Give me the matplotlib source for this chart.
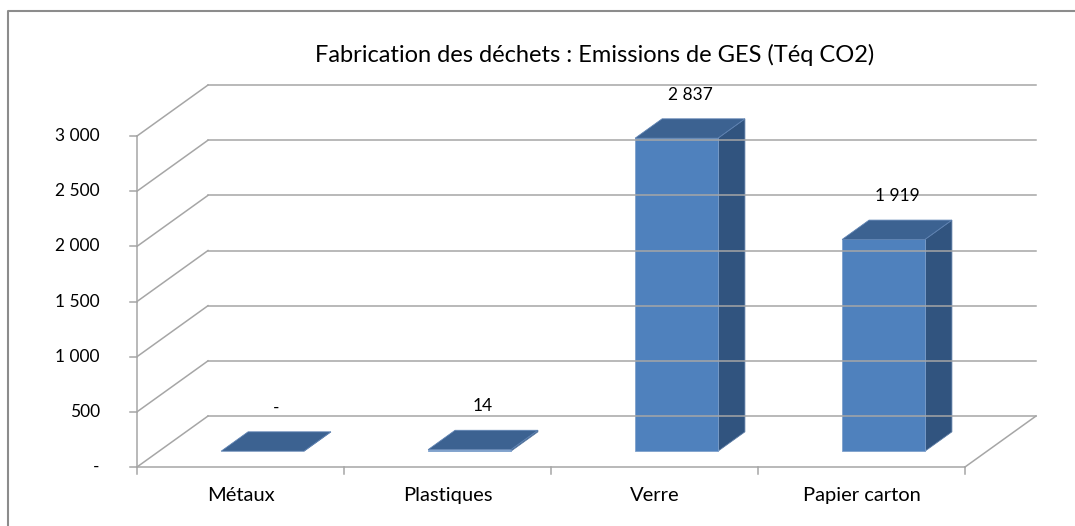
import matplotlib
matplotlib.use("Agg")
import matplotlib.pyplot as plt
from matplotlib.patches import Polygon
from matplotlib.lines import Line2D

categories = ["Métaux", "Plastiques", "Verre", "Papier carton"]
values = [0, 14, 2837, 1919]
yticks = [0, 500, 1000, 1500, 2000, 2500, 3000]
title = "Fabrication des déchets : Emissions de GES (Téq CO2)"


def fmt(v):
    if v == 0:
        return "-"
    return "{:,}".format(v).replace(",", " ")


plt.rcParams["font.family"] = ["Lato", "DejaVu Sans"]

fig = plt.figure(figsize=(10.75, 5.26), dpi=100)
ax = fig.add_axes([0, 0, 1, 1])
# front plane: x 0..4 -> 137..965 px, y 0..3000 -> 467..136 px
ax.set_xlim(-137 / 207, (1075 - 137) / 207)
ax.set_ylim((467 - 526) / 0.11033, 467 / 0.11033)
ax.axis("off")

grid = "#a6a6a6"
n = len(categories)
dx, dy = 0.343, 462  # depth of the floor in data units

# back wall + left wall gridlines
for v in yticks:
    ax.plot([dx, n + dx], [v + dy, v + dy], color=grid, lw=1.1)
    ax.plot([0, dx], [v, v + dy], color=grid, lw=1.1)

# left axis with ticks
ax.plot([0, 0], [0, yticks[-1]], color=grid, lw=1.1)
for v in yticks:
    ax.plot([-0.034, 0], [v, v], color=grid, lw=1.1)
    ax.text(-0.18, v, fmt(v), ha="right", va="center", fontsize=12.5)

# floor
ax.plot([0, n], [0, 0], color=grid, lw=1.1)
ax.plot([n, n + dx], [0, dy], color=grid, lw=1.1)
for i in range(n + 1):
    ax.plot([i, i], [0, -60], color=grid, lw=1.1)
for i, c in enumerate(categories):
    ax.text(i + 0.5, -260, c, ha="center", va="center", fontsize=14.5)

# bars
front_c, side_c, top_c = "#4f81bd", "#31547f", "#3c6291"
w = 0.40
f0, f1 = 0.31, 0.69
for i, v in enumerate(values):
    x0 = i + 0.5 - w / 2 + f0 * dx
    x1 = x0 + w
    y0 = f0 * dy
    ox, oy = (f1 - f0) * dx, (f1 - f0) * dy
    side = [(x1, y0), (x1 + ox, y0 + oy), (x1 + ox, y0 + oy + v), (x1, y0 + v)]
    top = [(x0, y0 + v), (x1, y0 + v), (x1 + ox, y0 + oy + v), (x0 + ox, y0 + oy + v)]
    front = [(x0, y0), (x1, y0), (x1, y0 + v), (x0, y0 + v)]
    ax.add_patch(Polygon(side, closed=True, fc=side_c, ec="#5a7aa3", lw=0.6))
    if v > 0:
        ax.add_patch(Polygon(front, closed=True, fc=front_c, ec="#7ea0cc", lw=0.6))
    ax.add_patch(Polygon(top, closed=True, fc=top_c, ec="#5f83b3", lw=0.6))
    lx = i + 0.5 + 0.5 * dx
    ly = v + f1 * dy
    ax.annotate(fmt(v), (lx, ly), xytext=(0, 16), textcoords="offset pixels",
                ha="center", va="bottom", fontsize=12.5)

fig.text(595 / 1075, 1 - 55 / 526, title, ha="center", va="center", fontsize=17)

# chart area border (top and left edges visible)
fig.add_artist(Line2D([8 / 1075, 8 / 1075, 1], [0, 1 - 11 / 526, 1 - 11 / 526],
                      transform=fig.transFigure, color="#8c8c8c", lw=1.5))

fig.savefig("out.png", dpi=100)
